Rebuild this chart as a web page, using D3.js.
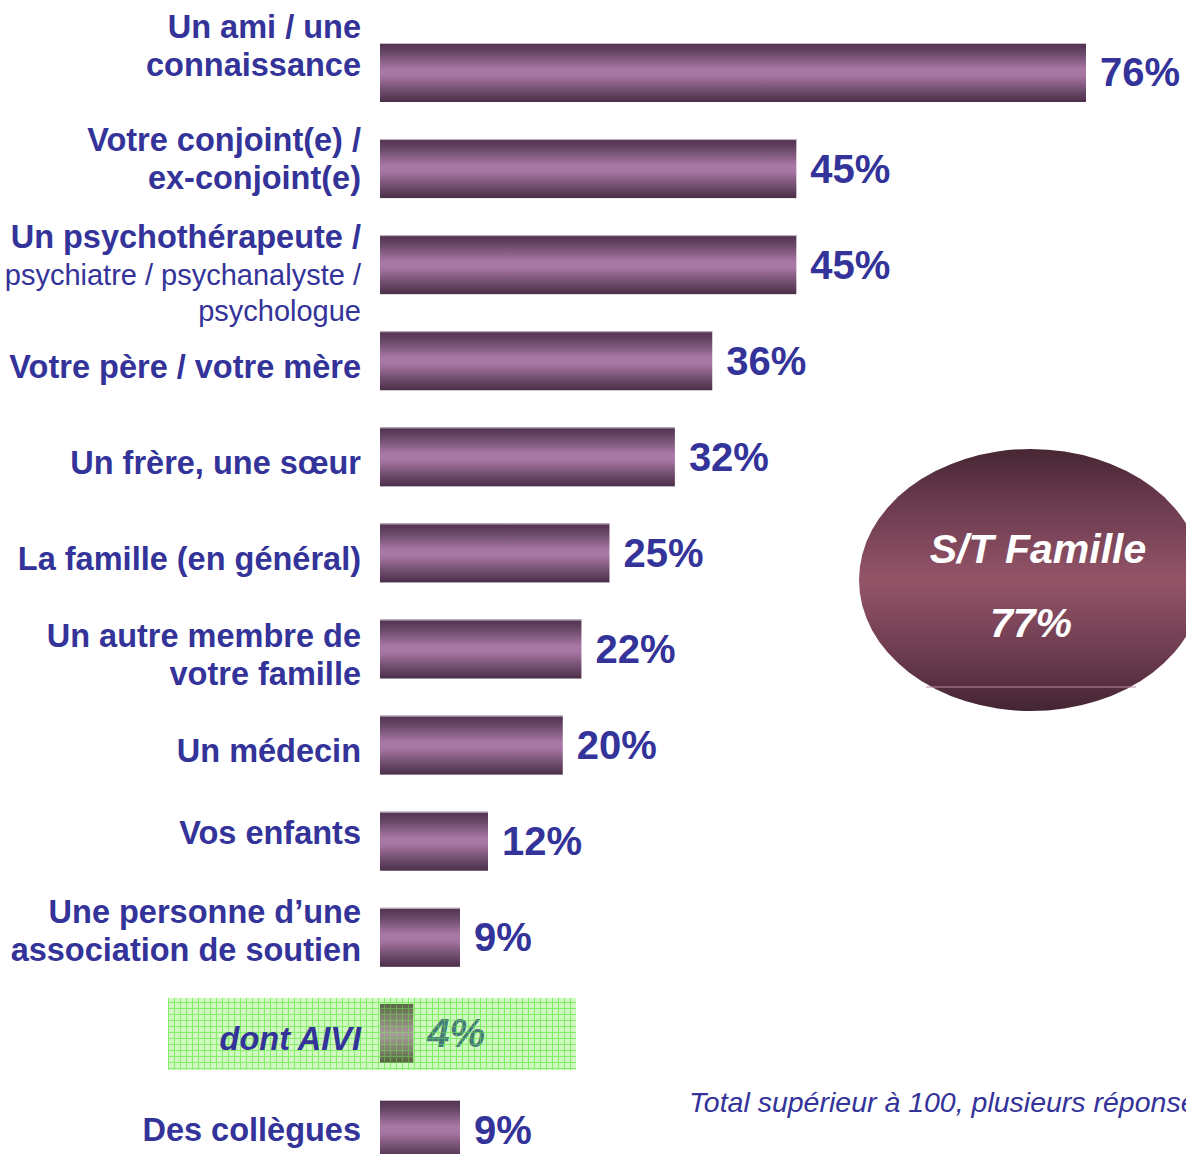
<!DOCTYPE html>
<html>
<head>
<meta charset="utf-8">
<script src="https://cdn.jsdelivr.net/npm/d3@7"></script>
<style>
  body { margin: 0; background: #fff; }
  svg { display: block; font-family: "Liberation Sans", Arial, sans-serif; }
</style>
</head>
<body>
<svg id="chart" width="1186" height="1154"></svg>
<script>
// Categories (one per bar, top to bottom)
const categories = [
  "ami", "conjoint", "psy", "parents", "fratrie", "famille", "autre",
  "medecin", "enfants", "association", "aivi", "collegues",
];

// Label lines shown left of each bar
const labelLines = [
  ["Un ami / une", "connaissance"],
  ["Votre conjoint(e) /", "ex-conjoint(e)"],
  ["Un psychothérapeute /", "psychiatre / psychanalyste /", "psychologue"],
  ["Votre père / votre mère"],
  ["Un frère, une sœur"],
  ["La famille (en général)"],
  ["Un autre membre de", "votre famille"],
  ["Un médecin"],
  ["Vos enfants"],
  ["Une personne d’une", "association de soutien"],
  ["dont AIVI"],
  ["Des collègues"],
];

// Percentages
const values = [76, 45, 45, 36, 32, 25, 22, 20, 12, 9, 4, 9];

const subtotalLabel = "S/T Famille";
const subtotalValue = 77;
const footnote = "Total supérieur à 100, plusieurs réponses possibles";

const svg = d3.select("#chart");
const blue = "#333399";

// Scales
const x = d3.scaleLinear().domain([0.44, 76]).range([380, 1086]);
const y = d3
  .scaleBand()
  .domain(categories)
  .range([43, 1159])
  .paddingInner(0.386)
  .paddingOuter(0);

// Gradients & patterns
const defs = svg.append("defs");

function vGradient(id, stops) {
  const g = defs
    .append("linearGradient")
    .attr("id", id)
    .attr("x1", 0).attr("y1", 0)
    .attr("x2", 0).attr("y2", 1);
  stops.forEach((s) => g.append("stop").attr("offset", s[0]).attr("stop-color", s[1]));
}

vGradient("barGrad", [
  [0, "#4f3250"], [0.15, "#654564"], [0.45, "#aa78a6"],
  [0.55, "#a876a4"], [0.85, "#664565"], [1, "#4c2f49"],
]);
vGradient("aiviGrad", [
  [0, "#55673f"], [0.2, "#7b8068"], [0.5, "#a89a9a"],
  [0.8, "#7b8068"], [1, "#52643c"],
]);
vGradient("ellGrad", [
  [0, "#472634"], [0.2, "#6a3a4e"], [0.5, "#945468"],
  [0.8, "#6a3a4e"], [1, "#432433"],
]);

const grid = defs
  .append("pattern")
  .attr("id", "grid")
  .attr("width", 6)
  .attr("height", 6)
  .attr("patternUnits", "userSpaceOnUse");
grid.append("rect").attr("width", 6).attr("height", 6).attr("fill", "#cff9c0");
grid.append("path").attr("d", "M0 0.5H6M0.5 0V6").attr("stroke", "#86ee6c").attr("stroke-width", 1);

const gridLines = defs
  .append("pattern")
  .attr("id", "gridLines")
  .attr("width", 6)
  .attr("height", 6)
  .attr("patternUnits", "userSpaceOnUse");
gridLines.append("path").attr("d", "M0 0.5H6M0.5 0V6").attr("stroke", "#7aee5a").attr("stroke-width", 1);

// Highlight box behind "dont AIVI"
svg
  .append("rect")
  .attr("x", 168)
  .attr("y", y("aivi") - 6)
  .attr("width", 408)
  .attr("height", y.bandwidth() + 13)
  .attr("fill", "url(#grid)");

// Bars
svg
  .append("g")
  .selectAll("rect")
  .data(categories)
  .join("rect")
  .attr("x", x(0.44))
  .attr("y", (d) => y(d))
  .attr("width", (d, i) => x(values[i]) - x(0.44))
  .attr("height", y.bandwidth())
  .attr("fill", (d) => (d === "aivi" ? "url(#aiviGrad)" : "url(#barGrad)"));

// Thin light top edge on bars
svg
  .append("g")
  .selectAll("line")
  .data(categories.filter((d) => d !== "aivi"))
  .join("line")
  .attr("x1", x(0.44))
  .attr("x2", (d) => x(values[categories.indexOf(d)]))
  .attr("y1", (d) => y(d) + 0.5)
  .attr("y2", (d) => y(d) + 0.5)
  .attr("stroke", "#cbb8ca")
  .attr("stroke-width", 1);

// Value labels
svg
  .append("g")
  .selectAll("text")
  .data(categories)
  .join("text")
  .attr("x", (d, i) => x(values[i]) + 14)
  .attr("y", (d) => y(d) + y.bandwidth() / 2)
  .attr("dominant-baseline", "central")
  .attr("font-size", 40)
  .attr("font-weight", "bold")
  .attr("font-style", (d) => (d === "aivi" ? "italic" : "normal"))
  .attr("fill", (d) => (d === "aivi" ? "#447a78" : blue))
  .text((d, i) => values[i] + "%");

// Grid texture over AIVI bar and value
svg
  .append("rect")
  .attr("x", x(0.44))
  .attr("y", y("aivi") - 6)
  .attr("width", 576 - x(0.44))
  .attr("height", y.bandwidth() + 13)
  .attr("fill", "url(#gridLines)")
  .attr("opacity", 0.4);

// Category labels
const labelNudge = { 0: -26, 1: -10, 2: 10, 8: -8, 9: -6, 11: 0 };
const labels = svg.append("g").attr("text-anchor", "end").attr("fill", blue);
categories.forEach((c, i) => {
  const lines = labelLines[i];
  const lh = 38;
  const cy = y(c) + y.bandwidth() / 2 + (labelNudge[i] !== undefined ? labelNudge[i] : 6);
  const t = labels
    .append("text")
    .attr("x", 361)
    .attr("dominant-baseline", "central")
    .attr("font-weight", "bold")
    .attr("font-size", 32.5)
    .attr("font-style", c === "aivi" ? "italic" : "normal");
  lines.forEach((line, j) => {
    const plain = c === "psy" && j > 0;
    t.append("tspan")
      .attr("x", 361)
      .attr("y", cy + (j - (lines.length - 1) / 2) * (plain ? 36 : lh))
      .attr("font-weight", plain ? "normal" : "bold")
      .attr("font-size", plain ? 29 : 32.5)
      .text(line);
  });
});

// Subtotal ellipse
const ell = svg.append("g");
ell
  .append("ellipse")
  .attr("cx", 1031)
  .attr("cy", 580)
  .attr("rx", 172)
  .attr("ry", 131)
  .attr("fill", "url(#ellGrad)");
ell
  .append("line")
  .attr("x1", 926)
  .attr("x2", 1136)
  .attr("y1", 687)
  .attr("y2", 687)
  .attr("stroke", "#b98a9c")
  .attr("stroke-width", 1);
ell
  .append("text")
  .attr("x", 1038)
  .attr("y", 549)
  .attr("text-anchor", "middle")
  .attr("dominant-baseline", "central")
  .attr("font-size", 41)
  .attr("font-weight", "bold")
  .attr("font-style", "italic")
  .attr("fill", "#fff")
  .text(subtotalLabel);
ell
  .append("text")
  .attr("x", 1031)
  .attr("y", 623)
  .attr("text-anchor", "middle")
  .attr("dominant-baseline", "central")
  .attr("font-size", 41)
  .attr("font-weight", "bold")
  .attr("font-style", "italic")
  .attr("fill", "#fff")
  .text(subtotalValue + "%");

// Footnote (runs off the right edge, as in the original)
svg
  .append("text")
  .attr("x", 689)
  .attr("y", 1112)
  .attr("font-size", 28.5)
  .attr("font-style", "italic")
  .attr("fill", blue)
  .text(footnote);
</script>
</body>
</html>
